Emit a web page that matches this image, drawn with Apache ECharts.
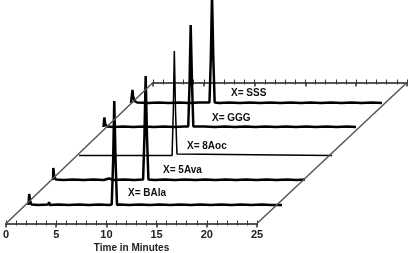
<!DOCTYPE html>
<html>
<head>
<meta charset="utf-8">
<script src="https://cdn.jsdelivr.net/npm/echarts@6/dist/echarts.min.js"></script>
<style>
  html, body { margin: 0; padding: 0; background: #fff; }
  #chart { width: 410px; height: 253px; }
</style>
</head>
<body>
<div id="chart"></div>
<script>
// time axis (minutes)
const timeTicks = [0, 5, 10, 15, 20, 25]
const minorStep = 1
const compounds = ['BAla', '5Ava', '8Aoc', 'GGG', 'SSS']

// chromatograms: [minutes, detector response]
const traceBAla = [[0.05, 1], [0.12, 12], [0.2, 5], [0.35, 1.5], [1, 1], [2, 1.5], [2.07, 4], [2.15, 1], [3, 1.5], [4, 1], [5, 1.5], [6, 1], [7, 1.5], [8, 1], [8.24, 1.5], [8.38, 45], [8.49, 105], [8.62, 45], [8.76, 1], [9, 1.5], [10, 1], [11, 1.5], [12, 1], [13, 1.5], [14, 1], [15, 1.5], [16, 1], [17, 1.5], [18, 1], [19, 1.5], [20, 1], [21, 1.5], [22, 1], [23, 1.5], [24, 1], [25, 1]]
const trace5Ava = [[0, 1], [0.03, 13], [0.12, 4], [0.3, 1.5], [1, 1], [2, 1.5], [3, 1], [4, 1.5], [5, 1], [5.5, 2.5], [6, 1], [7, 1.5], [8, 1], [8.87, 1.5], [9.0, 45], [9.12, 105], [9.25, 45], [9.39, 1.5], [10, 1], [11, 1.5], [12, 1], [13, 1.5], [14, 1], [15, 1.5], [16, 1], [17, 1.5], [18, 1], [19, 1.5], [20, 1], [21, 1.5], [22, 1], [23, 1.5], [24, 1], [24.8, 1.5]]
const trace8Aoc = [[0.1, 0.5], [1.9, 0.5], [1.97, 2], [2.05, 0.5], [8.5, 0.5], [8.56, 2], [8.62, 0.5], [9.26, 0.5], [9.38, 45], [9.48, 105], [9.6, 45], [9.74, 2], [9.9, 0.5], [25, 0.5]]
const traceGGG = [[0.05, 1], [0.13, 10.5], [0.22, 4], [0.4, 1.5], [1, 1], [2, 1.5], [3, 1], [4, 1.5], [5, 1], [6, 1.5], [7, 1], [8, 1.5], [8.39, 1.5], [8.52, 45], [8.63, 103], [8.76, 45], [8.89, 1.5], [9, 1], [10, 1.5], [11, 1], [12, 1.5], [13, 1], [14, 1.5], [15, 1], [16, 1.5], [17, 1], [18, 1.5], [19, 1], [20, 1.5], [21, 1], [22, 1.5], [23, 1], [24, 1.5], [24.9, 1]]
const traceSSS = [[0.3, 1], [0.44, 14], [0.5, 8], [0.65, 3], [0.9, 1.5], [2, 1], [3, 1.5], [4, 1], [5, 1.5], [6, 1], [7, 1.5], [8.02, 1.5], [8.15, 45], [8.27, 110], [8.4, 45], [8.53, 1.5], [9, 1], [10, 1.5], [11, 1], [12, 1.5], [13, 1], [14, 1.5], [15, 1], [16, 1.5], [17, 1], [18, 1.5], [19, 1], [20, 1.5], [21, 1], [22, 1.5], [23, 1], [24, 1.5], [25, 1]]
const traces = [traceBAla, trace5Ava, trace8Aoc, traceGGG, traceSSS]

// layout: stacked offsets of each trace (left px, baseline px) and label anchor
const traceLeft = [28, 53, 78, 103, 128]
const traceBase = [206, 181, 156, 128, 104]
const labelAt = [[9.84, 13], [10.83, 11], [10.73, 10], [10.73, 10], [10.14, 11]]
const frameColor = '#555'
const font = 'Liberation Sans, Arial, sans-serif'
const tMin = timeTicks[0], tMax = timeTicks[timeTicks.length - 1]

const chart = echarts.init(document.getElementById('chart'))

const axisGrid = (left, top) => ({ left, top, width: 254, height: 10 })
const grids = [axisGrid(3, 221)]
traceLeft.forEach((l, i) => grids.push({ left: l, top: traceBase[i] - 100, width: 254, height: 100 }))
grids.push(axisGrid(153, 72.5))
const TOP = grids.length - 1

// a frame time axis is three stacked x axes: minor ticks up, minor ticks down, major ticks + labels
const tickAxis = (gridIndex, inside, len) => ({
  type: 'value', gridIndex, min: tMin, max: tMax, interval: minorStep, position: 'bottom',
  axisLine: { show: false, onZero: false },
  axisTick: { show: true, inside, length: len, lineStyle: { color: '#333', width: 1 } },
  axisLabel: { show: false }, splitLine: { show: false }
})
const mainAxis = (gridIndex, labels) => ({
  type: 'value', gridIndex, min: tMin, max: tMax, interval: timeTicks[1] - timeTicks[0],
  position: 'bottom',
  axisLine: { show: true, onZero: false, lineStyle: { color: frameColor, width: 2 } },
  axisTick: { show: true, length: 4, lineStyle: { color: '#333', width: 1.5 } },
  splitLine: { show: false },
  axisLabel: { show: labels, margin: 6, color: '#222', fontWeight: 'bold', fontSize: 11, fontFamily: font },
  name: labels ? 'Time in Minutes' : '',
  nameLocation: 'middle', nameGap: 20,
  nameTextStyle: { color: '#222', fontWeight: 'bold', fontSize: 10, fontFamily: font }
})

const xAxes = [mainAxis(0, true)]
const yAxes = [{ type: 'value', gridIndex: 0, min: 0, max: 1, show: false }]
traces.forEach((_, i) => {
  xAxes.push({ type: 'value', gridIndex: i + 1, min: tMin, max: tMax, show: false })
  yAxes.push({ type: 'value', gridIndex: i + 1, min: 0, max: 100, show: false })
})
xAxes.push(mainAxis(TOP, false))
yAxes.push({ type: 'value', gridIndex: TOP, min: 0, max: 1, show: false })
const topMain = xAxes.length - 1
;[0, TOP].forEach(g => {
  xAxes.push(tickAxis(g, true, 3))
  xAxes.push(tickAxis(g, false, 2))
})

chart.setOption({
  animation: false,
  grid: grids,
  xAxis: xAxes,
  yAxis: yAxes,
  series: traces.map((data, i) => ({
    type: 'line',
    name: compounds[i],
    xAxisIndex: i + 1,
    yAxisIndex: i + 1,
    data,
    clip: false,
    showSymbol: false,
    lineStyle: { color: '#000', width: i === 2 ? 1.5 : 2.5 },
    markPoint: {
      symbolSize: 0,
      data: [{ coord: labelAt[i], name: compounds[i] }],
      label: {
        show: true, position: 'right', distance: 0,
        formatter: 'X= ' + compounds[i],
        color: '#111', fontWeight: 'bold', fontSize: 10, fontFamily: font
      }
    }
  }))
})

// slanted sides of the frame joining the bottom and top time axes
const px = (xi, yi, t) => chart.convertToPixel({ xAxisIndex: xi, yAxisIndex: yi }, [t, 0])
const side = (a, b) => ({
  type: 'line', z: 100,
  shape: { x1: a[0], y1: a[1], x2: b[0], y2: b[1] },
  style: { stroke: frameColor, lineWidth: 1.5 }
})
chart.setOption({
  graphic: [
    side(px(0, 0, tMin), px(topMain, TOP, tMin)),
    side(px(0, 0, tMax), px(topMain, TOP, tMax))
  ]
})
</script>
</body>
</html>
